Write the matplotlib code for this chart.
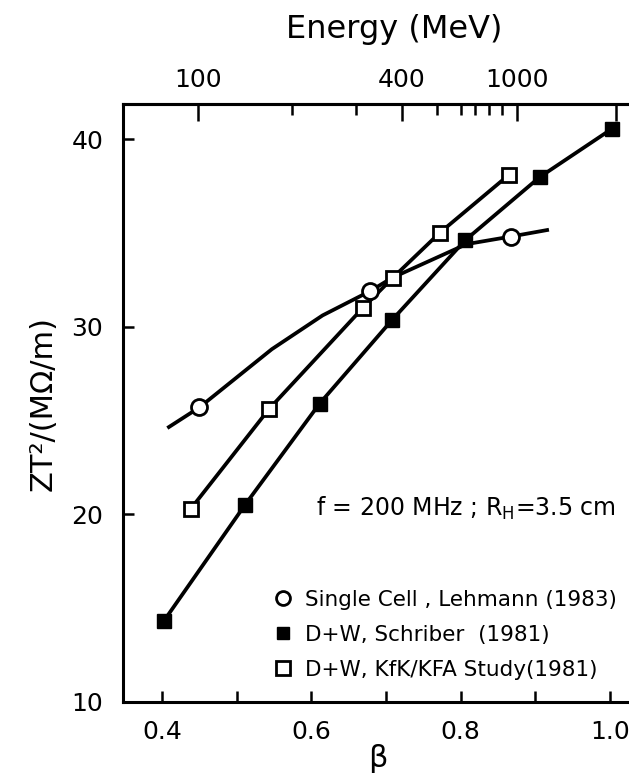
import numpy as np
import matplotlib
matplotlib.use('Agg')
import matplotlib.pyplot as plt
from matplotlib.lines import Line2D

plt.rcParams['font.family'] = ['DejaVu Sans']
plt.rcParams['mathtext.fontset'] = 'dejavusans'

# Single Cell, Lehmann (1983)
single_beta = [0.45, 0.679, 0.867]
single_z = [25.7, 31.9, 34.8]
single_curve_beta = [0.409, 0.45, 0.547, 0.615, 0.679, 0.708, 0.808, 0.867, 0.916]
single_curve_z = [24.65, 25.7, 28.8, 30.6, 31.9, 32.6, 34.4, 34.8, 35.15]

# D+W, Schriber (1981)
schriber_beta = [0.402, 0.511, 0.611, 0.708, 0.806, 0.906, 1.003]
schriber_z = [14.3, 20.5, 25.9, 30.35, 34.6, 37.97, 40.55]

# D+W, KfK/KFA Study (1981)
kfk_beta = [0.4385, 0.543, 0.669, 0.709, 0.772, 0.865]
kfk_z = [20.3, 25.6, 31.0, 32.6, 35.0, 38.1]

beta_ticks = [0.4, 0.5, 0.6, 0.7, 0.8, 0.9, 1.0]
beta_labels = ['0.4', '', '0.6', '', '0.8', '', '1.0']
z_ticks = [10, 20, 30, 40]

# top energy scale, tick positions (in beta)
energy_tick_beta = [0.448, 0.574, 0.66, 0.721, 0.769, 0.8, 0.82, 0.838, 0.856, 0.875, 1.008]
energy_tick_labels = ['100', '', '', '400', '', '', '', '', '', '1000', '']
energy_major = [True, False, False, True, False, False, False, False, False, True, True]

legend_labels = ['Single Cell , Lehmann (1983)',
                 'D+W, Schriber  (1981)',
                 'D+W, KfK/KFA Study(1981)']

fig = plt.figure(figsize=(6.29, 7.73), dpi=100)
ax = fig.add_axes([0.195, 0.092, 0.81, 0.773])

lw = 2.7
ax.plot(single_curve_beta, single_curve_z, color='black', lw=lw, zorder=2)
ax.plot(schriber_beta, schriber_z, color='black', lw=lw, zorder=2)
ax.plot(kfk_beta, kfk_z, color='black', lw=lw, zorder=2)

ax.plot(single_beta, single_z, 'o', ms=11.5, mfc='white', mec='black', mew=2, zorder=3)
ax.plot(schriber_beta, schriber_z, 's', ms=10, mfc='black', mec='black', zorder=3)
ax.plot(kfk_beta, kfk_z, 's', ms=10.5, mfc='white', mec='black', mew=2, zorder=3)

ax.set_xlim(0.347, 1.03)
ax.set_ylim(10, 41.85)

ax.set_xticks(beta_ticks)
ax.set_xticklabels(beta_labels)
ax.set_yticks(z_ticks)
ax.tick_params(axis='both', direction='in', length=8, width=1.8, labelsize=18)
ax.tick_params(axis='x', pad=13)
ax.tick_params(axis='y', pad=14)
for s in ['left', 'bottom', 'top']:
    ax.spines[s].set_linewidth(2.2)
ax.spines['right'].set_visible(False)

ax.set_xlabel('β', fontsize=22, labelpad=0)
ax.set_ylabel('ZT²/(MΩ/m)', fontsize=22, labelpad=10)

# top energy axis
ax2 = ax.twiny()
ax2.set_xlim(ax.get_xlim())
ax2.spines['right'].set_visible(False)
ax2.spines['top'].set_linewidth(2.2)
ax2.set_xticks(energy_tick_beta)
ax2.set_xticklabels(energy_tick_labels)
ax2.tick_params(axis='x', direction='in', length=8, width=1.8, labelsize=18, pad=9)
for t, big in zip(ax2.xaxis.get_major_ticks(), energy_major):
    if big:
        t.tick2line.set_markersize(12)
fig.text(0.627, 0.962, 'Energy (MeV)', fontsize=23, ha='center', va='center')

ax.text(0.6056, 20.3, 'f = 200 MHz ; R$_\\mathrm{H}$=3.5 cm', fontsize=17, ha='left', va='center')

handles = [Line2D([], [], ls='none', marker='o', ms=10, mfc='white', mec='black', mew=2),
           Line2D([], [], ls='none', marker='s', ms=9, mfc='black', mec='black'),
           Line2D([], [], ls='none', marker='s', ms=9.5, mfc='white', mec='black', mew=2)]
ax.legend(handles, legend_labels, loc='lower right', bbox_to_anchor=(0.995, 0.015),
          frameon=False, fontsize=15.5, handletextpad=0.5, labelspacing=0.7,
          handlelength=1.0, borderaxespad=0.2)

fig.savefig('out.png', dpi=100)
